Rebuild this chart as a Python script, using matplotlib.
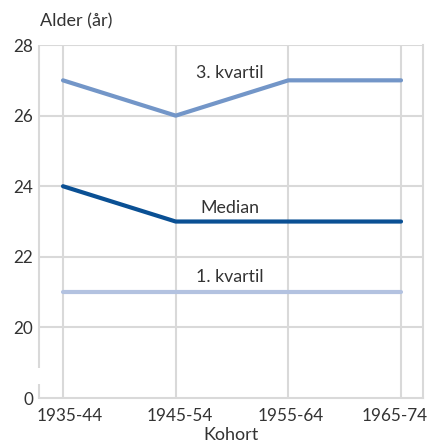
import matplotlib.pyplot as plt
from matplotlib.transforms import ScaledTranslation

# data
kohort = ['1935-44', '1945-54', '1955-64', '1965-74']
kvartil3 = [27, 26, 27, 27]
median = [24, 23, 23, 23]
kvartil1 = [21, 21, 21, 21]

# broken axis: the bottom tick stands for 0, drawn one step below 20
y_ticks = [18, 20, 22, 24, 26, 28]
y_labels = ['0', '20', '22', '24', '26', '28']

plt.rcParams['font.family'] = ['Lato', 'DejaVu Sans']

fig = plt.figure(figsize=(4.3, 4.46), dpi=100)
ax = fig.add_axes([0.0907, 0.1076, 0.893, 0.7914])

x = list(range(len(kohort)))
ax.plot(x, kvartil3, color='#7396c8', lw=3, solid_capstyle='round', zorder=3)
ax.plot(x, median, color='#0a5094', lw=3, solid_capstyle='round', zorder=3)
ax.plot(x, kvartil1, color='#b3c2e0', lw=3, solid_capstyle='round', zorder=3)

ax.text(1.48, 27.2, '3. kvartil', ha='center', va='center', fontsize=12.8, color='#333333')
ax.text(1.48, 23.38, 'Median', ha='center', va='center', fontsize=12.8, color='#333333')
ax.text(1.48, 21.42, '1. kvartil', ha='center', va='center', fontsize=12.8, color='#333333')

ax.set_xlim(-0.213, 3.195)
ax.set_ylim(18, 28)
ax.set_xticks(x)
ax.set_xticklabels(kohort)
ax.set_yticks(y_ticks)
ax.set_yticklabels(y_labels)
ax.tick_params(length=0, labelsize=12.3, colors='#333333')
ax.tick_params(axis='x', pad=7)
ax.tick_params(axis='y', pad=4)

# end labels are pushed inward so they stay inside the figure
shifts = [7, 4, 2.5, -6.5]
for lab, dx in zip(ax.get_xticklabels(), shifts):
    lab.set_transform(lab.get_transform() + ScaledTranslation(dx / 100, 0, fig.dpi_scale_trans))

grid_c = '#d9d9d9'
for v in [20, 22, 24, 26, 28]:
    ax.axhline(v, color=grid_c, lw=1.5, zorder=1)
for v in x:
    ax.axvline(v, color=grid_c, lw=1.5, zorder=1)

for s in ['top', 'left']:
    ax.spines[s].set_visible(False)
ax.spines['right'].set_color(grid_c)
ax.spines['right'].set_linewidth(1.5)
ax.spines['bottom'].set_color(grid_c)
ax.spines['bottom'].set_linewidth(1.5)

# left axis with a gap to mark the break
ax.plot([-0.213, -0.213], [18, 18.4], color=grid_c, lw=1.5, clip_on=False, solid_capstyle='butt')
ax.plot([-0.213, -0.213], [18.85, 28], color=grid_c, lw=1.5, clip_on=False, solid_capstyle='butt')

ax.set_xlabel('Kohort', fontsize=13, color='#333333', labelpad=2)
fig.text(0.093, 0.952, 'Alder (år)', fontsize=13, color='#333333', va='center', ha='left')

fig.savefig('out.png', dpi=100)
